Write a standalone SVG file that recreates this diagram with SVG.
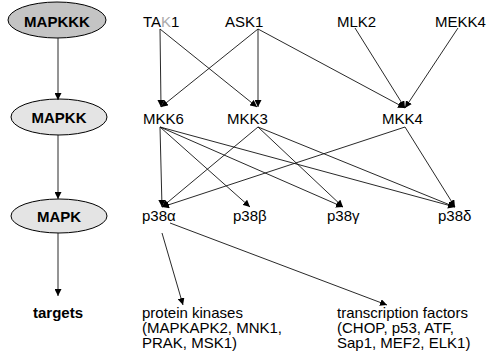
<svg xmlns="http://www.w3.org/2000/svg" width="495" height="358" viewBox="0 0 495 358">
<style>
text{font-family:"Liberation Sans",Arial,sans-serif;font-size:15px;fill:#000}
.b{font-weight:bold}
.lvl{stroke:#000;stroke-width:1}
.c line{stroke:#111;stroke-width:0.9;fill:none;marker-end:url(#ah)}
</style>
<defs>
<marker id="ah" markerUnits="userSpaceOnUse" markerWidth="8" markerHeight="7" refX="7" refY="3.5" orient="auto">
<path d="M0,0 L7,3.5 L0,7 z" fill="#000"/>
</marker>
</defs>
<rect width="495" height="358" fill="#fff"/>
<g id="MAPKKK"><ellipse class="lvl" cx="57" cy="20" rx="49" ry="18" fill="#c4c4c4"/><text class="b" x="57" y="27" text-anchor="middle">MAPKKK</text></g>
<g id="MAPKK"><ellipse class="lvl" cx="59" cy="117" rx="48" ry="18" fill="#e4e4e4"/><text class="b" x="59" y="123" text-anchor="middle">MAPKK</text></g>
<g id="MAPK"><ellipse class="lvl" cx="59" cy="216" rx="48" ry="17" fill="#e4e4e4"/><text class="b" x="59" y="222" text-anchor="middle">MAPK</text></g>
<g id="targets"><text class="b" x="58" y="318" text-anchor="middle">targets</text></g>
<g id="TAK1"><text x="143" y="27">TA<tspan fill="#aaa">K</tspan>1</text></g>
<g id="ASK1"><text x="225" y="27">ASK1</text></g>
<g id="MLK2"><text x="337" y="27">MLK2</text></g>
<g id="MEKK4"><text x="435" y="27">MEKK4</text></g>
<g id="MKK6"><text x="143" y="124">MKK6</text></g>
<g id="MKK3"><text x="227" y="124">MKK3</text></g>
<g id="MKK4"><text x="382" y="124">MKK4</text></g>
<g id="p38a"><text x="142" y="221">p38α</text></g>
<g id="p38b"><text x="233" y="221">p38β</text></g>
<g id="p38g"><text x="327" y="221">p38γ</text></g>
<g id="p38d"><text x="438" y="221">p38δ</text></g>
<g id="pk"><text x="142" y="318">protein kinases</text><text x="142" y="333">(MAPKAPK2, MNK1,</text><text x="142" y="348">PRAK, MSK1)</text></g>
<g id="tf"><text x="337" y="318">transcription factors</text><text x="337" y="333">(CHOP, p53, ATF,</text><text x="337" y="348">Sap1, MEF2, ELK1)</text></g>
<g class="c" id="connectors">
<line x1="58" y1="38" x2="58" y2="100"/>
<line x1="58" y1="135" x2="58" y2="199"/>
<line x1="58" y1="233" x2="58" y2="296"/>
<line x1="160" y1="29" x2="161" y2="107"/>
<line x1="160" y1="29" x2="257" y2="107"/>
<line x1="258" y1="29" x2="161" y2="107"/>
<line x1="258" y1="29" x2="258" y2="107"/>
<line x1="258" y1="29" x2="405" y2="108"/>
<line x1="355" y1="28" x2="405" y2="108"/>
<line x1="458" y1="28" x2="405" y2="108"/>
<line x1="160" y1="127" x2="162" y2="207"/>
<line x1="160" y1="127" x2="250" y2="207"/>
<line x1="160" y1="127" x2="343" y2="207"/>
<line x1="160" y1="127" x2="455" y2="207"/>
<line x1="258" y1="127" x2="162" y2="207"/>
<line x1="258" y1="127" x2="343" y2="207"/>
<line x1="258" y1="127" x2="455" y2="207"/>
<line x1="405" y1="127" x2="162" y2="207"/>
<line x1="405" y1="127" x2="455" y2="207"/>
<line x1="162" y1="233" x2="183" y2="305"/>
<line x1="170" y1="223" x2="387" y2="305"/>
</g>
</svg>
